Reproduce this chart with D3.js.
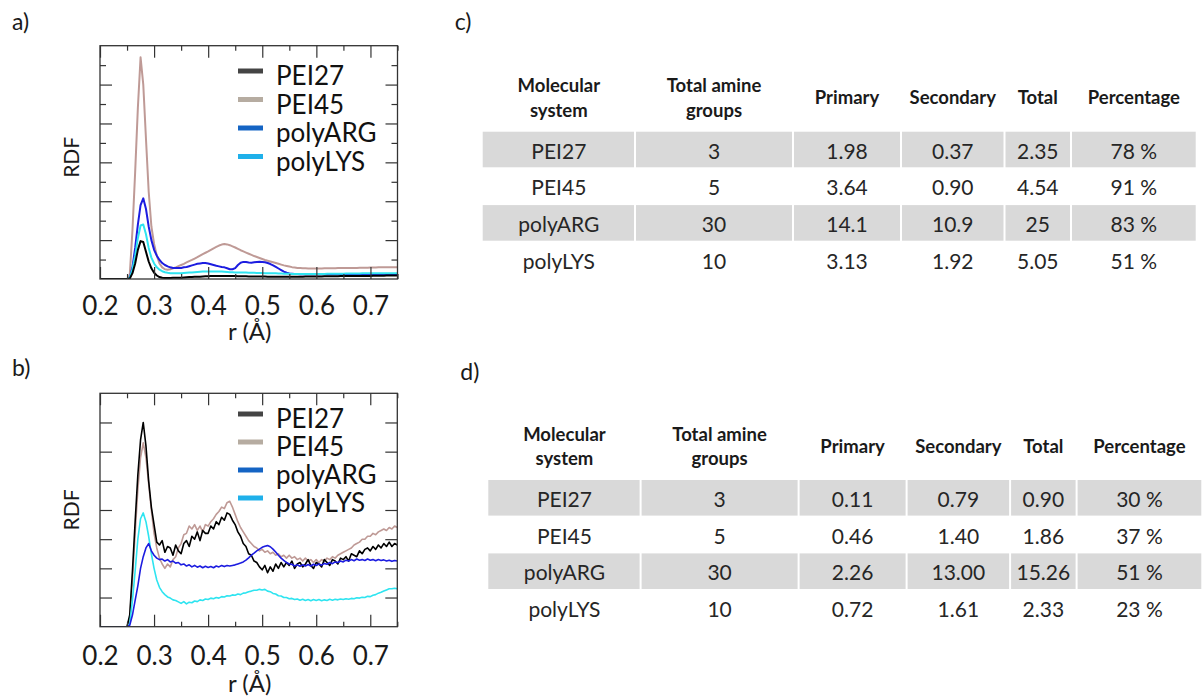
<!DOCTYPE html>
<html>
<head>
<meta charset="utf-8">
<script src="https://cdn.jsdelivr.net/npm/d3@7"></script>
<style>
  body { margin: 0; background: #fff; }
  text { font-family: Lato, "Open Sans", sans-serif; }
</style>
</head>
<body>
<svg id="fig" width="1204" height="698"></svg>
<script>
// ---- data ----
const seriesNames = ["PEI27", "PEI45", "polyARG", "polyLYS"];
// r sample grid (nm), 0.200 .. 0.750 every 0.005
const rGrid = d3.range(0, 111).map(i => +(0.2 + 0.005 * i).toFixed(3));
const xTickLabels = [0.2, 0.3, 0.4, 0.5, 0.6, 0.7];
const xMinorTicks = [0.25, 0.35, 0.45, 0.55, 0.65, 0.75];

// panel a) RDF
const rdfA_PEI27 = [
  0,0,0,0,0,0,0,0,0,0,
  0,0.02,0.3,0.8,1.5,1.95,1.9,1.4,0.9,0.55,
  0.32,0.18,0.1,0.06,0.05,0.05,0.05,0.06,0.06,0.07,
  0.07,0.08,0.09,0.1,0.1,0.11,0.12,0.12,0.13,0.14,
  0.14,0.15,0.15,0.16,0.16,0.16,0.16,0.16,0.15,0.15,
  0.15,0.14,0.14,0.14,0.14,0.13,0.13,0.13,0.13,0.13,
  0.13,0.13,0.12,0.12,0.12,0.12,0.12,0.12,0.12,0.12,
  0.12,0.12,0.12,0.12,0.12,0.12,0.13,0.13,0.13,0.13,
  0.13,0.13,0.13,0.14,0.14,0.14,0.14,0.14,0.14,0.15,
  0.15,0.15,0.15,0.15,0.15,0.16,0.16,0.16,0.16,0.16,
  0.16,0.17,0.17,0.17,0.17,0.17,0.18,0.18,0.18,0.18,0.18];
const rdfA_PEI45 = [
  0,0,0,0,0,0,0,0,0,0,
  0,0.2,2.5,5.5,8.8,11.4,10.0,7.2,4.5,2.7,
  1.8,1.2,0.8,0.6,0.5,0.48,0.5,0.55,0.6,0.66,
  0.72,0.78,0.85,0.92,0.98,1.05,1.12,1.2,1.28,1.35,
  1.42,1.5,1.58,1.65,1.72,1.77,1.8,1.78,1.74,1.68,
  1.62,1.55,1.48,1.42,1.36,1.3,1.24,1.18,1.13,1.08,
  1.03,0.98,0.94,0.9,0.86,0.82,0.78,0.74,0.7,0.67,
  0.64,0.61,0.59,0.57,0.56,0.55,0.55,0.54,0.54,0.54,
  0.54,0.54,0.54,0.55,0.55,0.55,0.55,0.55,0.56,0.56,
  0.56,0.56,0.57,0.57,0.57,0.57,0.58,0.58,0.58,0.58,
  0.59,0.59,0.59,0.6,0.6,0.6,0.6,0.6,0.61,0.61,0.61];
const rdfA_polyARG = [
  0,0,0,0,0,0,0,0,0,0,
  0,0.05,0.6,1.6,2.8,3.8,4.15,3.6,2.7,2.0,
  1.5,1.2,0.98,0.82,0.72,0.65,0.6,0.57,0.56,0.56,
  0.57,0.6,0.62,0.66,0.7,0.74,0.78,0.8,0.82,0.82,
  0.8,0.76,0.72,0.68,0.65,0.62,0.6,0.55,0.5,0.5,
  0.56,0.72,0.84,0.88,0.87,0.85,0.84,0.86,0.88,0.89,
  0.88,0.86,0.82,0.77,0.7,0.62,0.54,0.46,0.38,0.32,
  0.28,0.27,0.26,0.26,0.25,0.25,0.25,0.25,0.25,0.25,
  0.25,0.25,0.25,0.25,0.24,0.24,0.24,0.24,0.24,0.24,
  0.24,0.24,0.24,0.24,0.24,0.24,0.24,0.24,0.25,0.25,
  0.25,0.25,0.25,0.25,0.25,0.25,0.25,0.25,0.25,0.25,0.25];
const rdfA_polyLYS = [
  0,0,0,0,0,0,0,0,0,0,
  0,0.05,0.5,1.2,2.1,2.75,2.8,2.3,1.6,1.1,
  0.8,0.6,0.48,0.4,0.35,0.32,0.3,0.3,0.3,0.3,
  0.3,0.31,0.32,0.33,0.34,0.35,0.36,0.37,0.38,0.38,
  0.39,0.39,0.39,0.39,0.38,0.38,0.37,0.36,0.35,0.35,
  0.34,0.34,0.33,0.33,0.33,0.32,0.32,0.32,0.31,0.31,
  0.31,0.3,0.3,0.3,0.29,0.29,0.28,0.28,0.27,0.27,
  0.27,0.26,0.26,0.26,0.26,0.26,0.26,0.26,0.26,0.26,
  0.26,0.26,0.26,0.26,0.27,0.27,0.27,0.27,0.27,0.27,
  0.27,0.28,0.28,0.28,0.28,0.28,0.28,0.29,0.29,0.29,
  0.29,0.29,0.29,0.3,0.3,0.3,0.3,0.3,0.3,0.3,0.3];

// panel b) RDF
const rdfB_PEI27 = [
  0,0,0,0,0,0,0,0,0,0,
  0,0.4,1.9,3.6,5.2,6.4,7.0,6.2,5.0,4.1,
  3.5,2.9,2.8,2.95,2.55,2.75,2.7,2.45,2.8,2.6,
  2.5,2.85,2.95,2.75,3.1,3.0,3.25,2.95,3.3,3.2,
  3.2,3.45,3.35,3.6,3.5,3.75,3.65,3.9,3.85,3.65,
  3.5,3.25,3.1,2.85,2.75,2.5,2.45,2.25,2.2,2.05,
  1.95,2.1,1.85,2.05,1.9,2.15,2.0,2.2,2.05,2.2,
  2.1,2.25,2.0,2.15,2.2,2.05,2.15,2.3,2.1,2.0,
  2.2,2.15,2.05,2.3,2.2,2.1,2.3,2.25,2.15,2.35,
  2.3,2.4,2.25,2.5,2.45,2.4,2.6,2.5,2.65,2.7,
  2.6,2.75,2.65,2.8,2.7,2.85,2.75,2.9,2.75,2.85,2.8];
const rdfB_PEI45 = [
  0,0,0,0,0,0,0,0,0,0,
  0,0.3,1.6,3.2,4.7,5.8,6.3,5.8,4.9,4.0,
  3.2,2.7,2.35,2.15,2.0,2.15,2.05,2.3,2.4,2.7,
  2.85,3.15,3.2,3.45,3.35,3.5,3.3,3.45,3.25,3.5,
  3.45,3.6,3.7,3.85,3.95,4.1,4.05,4.25,4.3,4.1,
  3.85,3.6,3.4,3.25,3.1,2.95,2.85,2.75,2.7,2.6,
  2.65,2.55,2.6,2.5,2.55,2.45,2.5,2.4,2.45,2.35,
  2.45,2.35,2.4,2.3,2.35,2.25,2.35,2.25,2.3,2.2,
  2.3,2.2,2.3,2.25,2.35,2.3,2.4,2.35,2.45,2.5,
  2.55,2.6,2.65,2.7,2.8,2.85,2.9,3.0,3.0,3.1,
  3.1,3.2,3.15,3.25,3.3,3.35,3.3,3.4,3.35,3.45,3.4];
const rdfB_polyARG = [
  0,0,0,0,0,0,0,0,0,0,
  0,0.05,0.4,0.9,1.4,2.0,2.4,2.7,2.85,2.6,
  2.45,2.35,2.3,2.32,2.25,2.3,2.22,2.25,2.18,2.2,
  2.12,2.15,2.08,2.12,2.05,2.1,2.04,2.08,2.02,2.07,
  2.03,2.06,2.02,2.08,2.05,2.1,2.06,2.1,2.08,2.1,
  2.12,2.15,2.18,2.22,2.28,2.36,2.45,2.52,2.6,2.66,
  2.72,2.76,2.78,2.74,2.66,2.56,2.45,2.35,2.27,2.2,
  2.15,2.14,2.08,2.12,2.07,2.12,2.08,2.13,2.08,2.14,
  2.1,2.15,2.11,2.17,2.14,2.2,2.16,2.22,2.2,2.25,
  2.22,2.28,2.25,2.3,2.26,2.32,2.28,2.3,2.27,2.32,
  2.28,2.3,2.26,2.3,2.27,2.29,2.25,2.28,2.24,2.27,2.25];
const rdfB_polyLYS = [
  0,0,0,0,0,0,0,0,0,0,
  0,0.1,0.9,1.9,3.0,3.7,3.9,3.6,3.1,2.5,
  2.0,1.6,1.35,1.2,1.1,1.02,0.98,0.92,0.9,0.85,
  0.8,0.86,0.78,0.84,0.82,0.88,0.86,0.92,0.9,0.95,
  0.93,0.98,0.96,1.0,0.98,1.03,1.02,1.06,1.05,1.09,
  1.08,1.12,1.1,1.15,1.16,1.2,1.22,1.25,1.25,1.28,
  1.26,1.28,1.22,1.2,1.14,1.12,1.06,1.05,1.0,1.0,
  0.96,0.97,0.93,0.95,0.91,0.94,0.9,0.93,0.89,0.93,
  0.9,0.93,0.89,0.92,0.9,0.94,0.91,0.94,0.92,0.95,
  0.93,0.96,0.94,0.97,0.96,0.99,0.98,1.01,1.0,1.04,
  1.03,1.08,1.1,1.15,1.18,1.22,1.26,1.3,1.3,1.32,1.3];

// tables
const headerLines = [["Molecular", "system"], ["Total amine", "groups"], ["Primary"], ["Secondary"], ["Total"], ["Percentage"]];
const systems = ["PEI27", "PEI45", "polyARG", "polyLYS"];
const totalAmine = ["3", "5", "30", "10"];
const primaryC = ["1.98", "3.64", "14.1", "3.13"];
const secondaryC = ["0.37", "0.90", "10.9", "1.92"];
const totalC = ["2.35", "4.54", "25", "5.05"];
const percentC = ["78 %", "91 %", "83 %", "51 %"];
const primaryD = ["0.11", "0.46", "2.26", "0.72"];
const secondaryD = ["0.79", "1.40", "13.00", "1.61"];
const totalD = ["0.90", "1.86", "15.26", "2.33"];
const percentD = ["30 %", "37 %", "51 %", "23 %"];

// ---- styles ----
const lineColors = {PEI27: "#000000", PEI45: "#bf9a96", polyARG: "#1c1ce0", polyLYS: "#2ee4f0"};
const legendColors = {PEI27: "#444444", PEI45: "#b6aca1", polyARG: "#1464c4", polyLYS: "#1fb0ea"};
const frameColor = "#333";

const svg = d3.select("#fig");

function drawPanel(opt) {
  const x = d3.scaleLinear().domain([0.2, 0.75]).range([opt.left, opt.right]);
  const y = d3.scaleLinear().domain([0, opt.yMax]).range([opt.bottom, opt.top]);
  const g = svg.append("g");

  // clip
  const clipId = "clip" + opt.id;
  svg.append("defs").append("clipPath").attr("id", clipId)
    .append("rect")
    .attr("x", opt.left).attr("y", opt.top)
    .attr("width", opt.right - opt.left).attr("height", opt.bottom - opt.top);

  // lines
  const line = d3.line().x((d, i) => x(rGrid[i])).y(d => y(d));
  const lg = g.append("g").attr("clip-path", `url(#${clipId})`);
  opt.order.forEach(name => {
    lg.append("path")
      .datum(opt.data[name])
      .attr("fill", "none")
      .attr("stroke", lineColors[name])
      .attr("stroke-width", opt.lineWidth)
      .attr("stroke-linejoin", "round")
      .attr("d", line);
  });

  // axes (ticks pointing inward)
  function tickAxis(axis, translate) {
    const a = g.append("g").attr("transform", translate).call(axis);
    a.select(".domain").remove();
    a.selectAll(".tick line").attr("stroke", frameColor).attr("stroke-width", 1.2);
    return a;
  }
  const bottomMajor = tickAxis(
    d3.axisBottom(x).tickValues(xTickLabels).tickSize(-12).tickSizeOuter(0).tickFormat(d3.format(".1f")),
    `translate(0,${opt.bottom})`);
  bottomMajor.selectAll(".tick text")
    .attr("dy", null).attr("y", opt.tickLabelDy)
    .attr("font-size", 26).attr("fill", "#1a1a1a")
    .style("font-family", "Lato, 'Open Sans', sans-serif");
  tickAxis(d3.axisBottom(x).tickValues(xMinorTicks).tickSize(-5).tickFormat(""), `translate(0,${opt.bottom})`);
  tickAxis(d3.axisTop(x).tickValues(xTickLabels).tickSize(-12).tickFormat(""), `translate(0,${opt.top})`);
  tickAxis(d3.axisTop(x).tickValues(xMinorTicks).tickSize(-5).tickFormat(""), `translate(0,${opt.top})`);

  tickAxis(d3.axisLeft(y).tickValues(opt.yMajor).tickSize(-opt.yMajorLen).tickFormat(""), `translate(${opt.left},0)`);
  tickAxis(d3.axisRight(y).tickValues(opt.yMajor).tickSize(-opt.yMajorLen).tickFormat(""), `translate(${opt.right},0)`);
  if (opt.yMinor.length) {
    tickAxis(d3.axisLeft(y).tickValues(opt.yMinor).tickSize(-6).tickFormat(""), `translate(${opt.left},0)`);
    tickAxis(d3.axisRight(y).tickValues(opt.yMinor).tickSize(-6).tickFormat(""), `translate(${opt.right},0)`);
  }

  // frame
  g.append("rect")
    .attr("x", opt.left).attr("y", opt.top)
    .attr("width", opt.right - opt.left).attr("height", opt.bottom - opt.top)
    .attr("fill", "none").attr("stroke", frameColor).attr("stroke-width", 1.3);

  // axis titles
  g.append("text")
    .attr("x", (opt.left + opt.right) / 2 + 1).attr("y", opt.bottom + opt.xTitleDy)
    .attr("text-anchor", "middle").attr("font-size", 24).attr("fill", "#1a1a1a")
    .text("r (Å)");
  g.append("text")
    .attr("transform", `translate(${opt.left - 21},${(opt.top + opt.bottom) / 2 + opt.yTitleShift}) rotate(-90)`)
    .attr("text-anchor", "middle").attr("font-size", 21).attr("fill", "#1a1a1a")
    .text("RDF");

  // legend
  const leg = g.append("g");
  seriesNames.forEach((name, i) => {
    const by = opt.legendTop + i * opt.legendStep;
    leg.append("line")
      .attr("x1", 238).attr("x2", 263)
      .attr("y1", by - 14).attr("y2", by - 14)
      .attr("stroke", legendColors[name]).attr("stroke-width", 5);
    leg.append("text")
      .attr("x", 276).attr("y", by)
      .attr("font-size", 26).attr("fill", "#111")
      .text(name);
  });

  // panel letter
  svg.append("text").attr("x", 12).attr("y", opt.letterY)
    .attr("font-size", 23).attr("fill", "#1a1a1a").text(opt.letter);
}

drawPanel({
  id: "a", letter: "a)", letterY: 30,
  left: 100, right: 397.5, top: 45.7, bottom: 279,
  yMax: 12, yMajor: [2, 4, 6, 8, 10], yMinor: [1, 3, 5, 7, 9, 11], yMajorLen: 12,
  data: {PEI27: rdfA_PEI27, PEI45: rdfA_PEI45, polyARG: rdfA_polyARG, polyLYS: rdfA_polyLYS},
  order: ["PEI45", "polyARG", "polyLYS", "PEI27"], lineWidth: 2,
  tickLabelDy: 36, xTitleDy: 61, yTitleShift: -5,
  legendTop: 85, legendStep: 28.5
});

drawPanel({
  id: "b", letter: "b)", letterY: 376,
  left: 100, right: 397.3, top: 393.3, bottom: 626.7,
  yMax: 8, yMajor: [1, 2, 3, 4, 5, 6, 7], yMinor: [], yMajorLen: 12,
  data: {PEI27: rdfB_PEI27, PEI45: rdfB_PEI45, polyARG: rdfB_polyARG, polyLYS: rdfB_polyLYS},
  order: ["PEI45", "PEI27", "polyLYS", "polyARG"], lineWidth: 1.6,
  tickLabelDy: 38, xTitleDy: 65, yTitleShift: 0,
  legendTop: 428, legendStep: 28
});

// ---- tables ----
const colWidths = [152.3, 158, 108, 103.5, 66.5, 125.7];
const rowPitch = 36.7, rowHeight = 35.6;

function drawTable(opt) {
  const g = svg.append("g");
  const edges = [opt.x0];
  colWidths.forEach(w => edges.push(edges[edges.length - 1] + w));
  const centers = colWidths.map((w, i) => edges[i] + w / 2);

  // header
  headerLines.forEach((lines, c) => {
    lines.forEach((t, k) => {
      const yy = lines.length === 2 ? opt.headY + k * 24.4 : opt.headY + 12;
      g.append("text")
        .attr("x", centers[c]).attr("y", yy)
        .attr("text-anchor", "middle").attr("font-size", 18.5)
        .attr("font-weight", 700).attr("fill", "#1a1a1a")
        .text(t);
    });
  });

  // rows
  opt.cols[0].forEach((_, r) => {
    const top = opt.rowTop + r * rowPitch;
    if (r % 2 === 0) {
      colWidths.forEach((w, c) => {
        g.append("rect")
          .attr("x", edges[c] + (c === 0 ? 0 : 1)).attr("y", top)
          .attr("width", w - (c === 0 ? 1 : 2)).attr("height", rowHeight)
          .attr("fill", "#d9d9d9");
      });
    }
    opt.cols.forEach((col, c) => {
      g.append("text")
        .attr("x", centers[c]).attr("y", top + 27)
        .attr("text-anchor", "middle").attr("font-size", 21)
        .attr("fill", "#262626")
        .text(col[r]);
    });
  });

  svg.append("text").attr("x", opt.x0 - 28).attr("y", opt.letterY)
    .attr("font-size", 23).attr("fill", "#1a1a1a").text(opt.letter);
}

drawTable({
  letter: "c)", letterY: 30, x0: 482.7, headY: 92.3, rowTop: 131.7,
  cols: [systems, totalAmine, primaryC, secondaryC, totalC, percentC]
});
drawTable({
  letter: "d)", letterY: 380, x0: 488.3, headY: 440.7, rowTop: 480,
  cols: [systems, totalAmine, primaryD, secondaryD, totalD, percentD]
});
</script>
</body>
</html>
